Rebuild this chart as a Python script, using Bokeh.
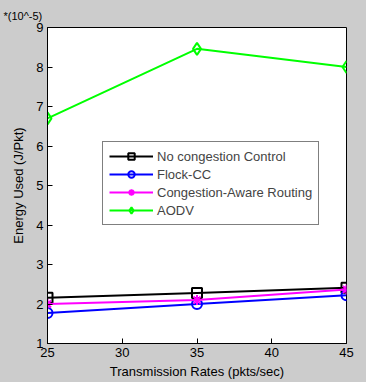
from bokeh.plotting import figure
from bokeh.models import Legend, LegendItem, FixedTicker, Range1d
from bokeh.embed import file_html
from bokeh.resources import INLINE

rates = [25, 35, 45]
no_cc = [2.16, 2.28, 2.41]
flock_cc = [1.77, 2.0, 2.22]
ca_routing = [2.0, 2.1, 2.37]
aodv = [6.7, 8.46, 8.0]

x_ticks = [25, 30, 35, 40, 45]
y_ticks = [1, 2, 3, 4, 5, 6, 7, 8, 9]

BG = "#cccccc"
FONT = "Liberation Sans"

p = figure(width=366, height=382, output_backend="svg", toolbar_location=None,
           x_range=Range1d(25, 45), y_range=Range1d(1, 9),
           min_border_left=47, min_border_top=27, min_border_right=20, min_border_bottom=39)
p.background_fill_color = "white"
p.border_fill_color = BG
p.outline_line_color = "black"
p.outline_line_width = 1
p.grid.visible = False

p.title.text = "*(10^-5)"
p.title.align = "left"
p.title.offset = -44
p.title.standoff = 12
p.title.text_font = FONT
p.title.text_font_size = "11px"
p.title.text_font_style = "normal"
p.title.text_color = "black"

for ax, ticks in ((p.xaxis[0], x_ticks), (p.yaxis[0], y_ticks)):
    ax.ticker = FixedTicker(ticks=ticks)
    ax.major_tick_in = 5
    ax.major_tick_out = 0
    ax.minor_tick_line_color = None
    ax.axis_line_color = "black"
    ax.major_label_text_font = FONT
    ax.major_label_text_font_size = "13px"
    ax.major_label_text_color = "black"
    ax.axis_label_text_font = FONT
    ax.axis_label_text_font_size = "13px"
    ax.axis_label_text_font_style = "normal"
    ax.axis_label_text_color = "black"

p.xaxis.axis_label = "Transmission Rates (pkts/sec)"
p.yaxis.axis_label = "Energy Used (J/Pkt)"
p.xaxis.major_label_standoff = 4
p.yaxis.major_label_standoff = 4
p.xaxis.axis_label_standoff = 4
p.yaxis.axis_label_standoff = 7

lw = 2
r1 = p.line(rates, no_cc, color="black", line_width=lw)
m1 = p.scatter(rates, no_cc, marker="square", size=10, fill_color=None, line_color="black", line_width=2)
r2 = p.line(rates, flock_cc, color="#0000ff", line_width=lw)
m2 = p.scatter(rates, flock_cc, marker="circle", size=10, fill_color=None, line_color="#0000ff", line_width=2)
r3 = p.line(rates, ca_routing, color="#ff00ff", line_width=lw)
m3 = p.scatter(rates, ca_routing, marker="asterisk", size=10, line_color="#ff00ff", line_width=2)
r4 = p.line(rates, aodv, color="#00ff00", line_width=lw)
m4 = p.scatter(rates, aodv, marker="diamond", size=12, fill_color=None, line_color="#00ff00", line_width=2)

legend = Legend(items=[
    LegendItem(label="No congestion Control", renderers=[r1, m1]),
    LegendItem(label="Flock-CC", renderers=[r2, m2]),
    LegendItem(label="Congestion-Aware Routing", renderers=[r3, m3]),
    LegendItem(label="AODV", renderers=[r4, m4]),
], location=(55, 118))
legend.border_line_color = "black"
legend.border_line_width = 1
legend.background_fill_color = "white"
legend.background_fill_alpha = 1
legend.label_text_font = FONT
legend.label_text_font_size = "13px"
legend.label_height = 16
legend.glyph_height = 16
legend.glyph_width = 44
legend.spacing = 2
legend.padding = 6
legend.margin = 0
legend.label_standoff = 4
p.add_layout(legend, "center")

html = file_html(p, INLINE)
html = html.replace("</head>", "<style>body{background:#cccccc;}</style></head>", 1)
open("out.html", "w").write(html)
